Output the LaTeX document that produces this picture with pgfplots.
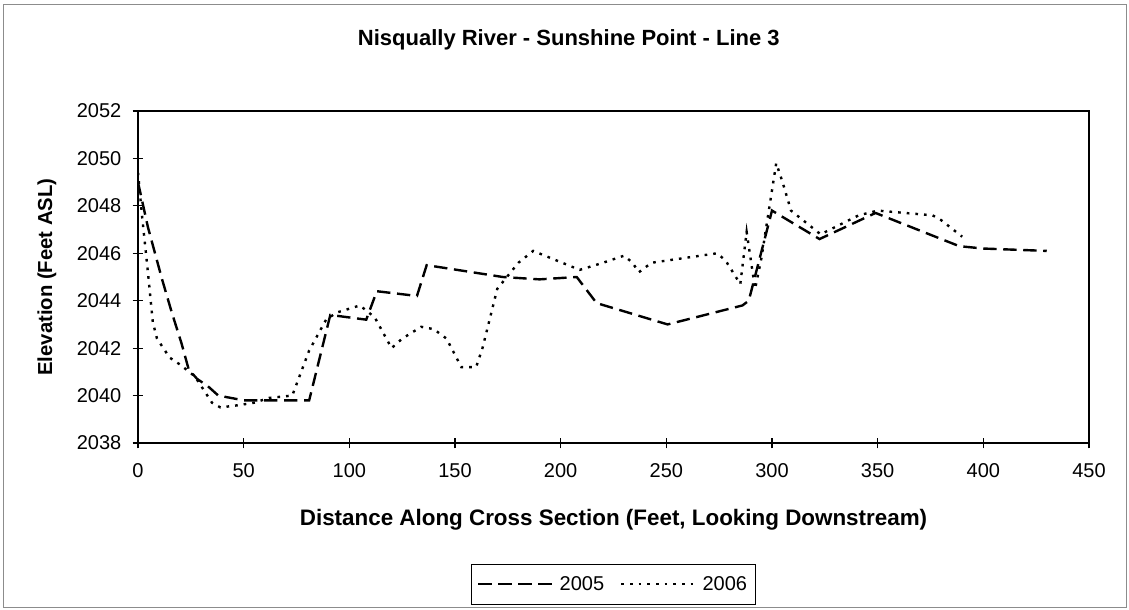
\documentclass[border=0pt]{standalone}
\usepackage{fontspec}
\setmainfont{Liberation Sans}
\usepackage{pgfplots}
\pgfplotsset{compat=1.18}
\pgfplotstableread{
x y
0 2049.0
4.7 2047.1
11.4 2044.9
16 2043.5
20.6 2042.2
24 2041.1
28 2040.7
33 2040.4
38 2040.0
50 2039.8
81 2039.8
91 2043.4
108 2043.2
113 2044.4
132 2044.2
136.6 2045.5
172.6 2045.0
190 2044.9
207.6 2045.0
217 2043.9
250.6 2043.0
286 2043.8
289 2044.0
300 2047.8
322.5 2046.6
349 2047.7
388.6 2046.3
400 2046.2
430 2046.1
}\dataA
\pgfplotstableread{
x y
0 2049.4
2 2047.5
4.7 2045.2
7 2043.1
9 2042.4
15 2041.6
20 2041.3
27 2040.8
35 2039.7
39 2039.5
48 2039.6
55 2039.7
62 2039.9
73 2040.0
81 2041.9
89 2043.2
94 2043.5
105 2043.8
112 2043.3
120 2042.0
125 2042.4
134 2042.9
140 2042.8
146 2042.4
153 2041.2
160 2041.2
163 2042.0
170 2044.5
180 2045.6
187 2046.1
198 2045.7
209 2045.3
220 2045.6
230 2045.9
234 2045.6
237 2045.2
243 2045.6
274 2046.0
278 2045.7
285 2044.7
288 2046.9
292 2044.5
295 2045.8
302 2049.8
305 2049.0
309 2047.8
323 2046.8
341 2047.6
350 2047.8
376 2047.6
380 2047.4
390 2046.7
}\dataB
\begin{document}
\begin{tikzpicture}
\useasboundingbox (0,0) rectangle (846.75pt,457.5pt);
\draw[black!45, line width=0.6pt] (2.5pt,2pt) rectangle (844.5pt,454.5pt);
\begin{axis}[
  at={(103.5pt,125.25pt)}, anchor=south west,
  width=713.25pt, height=249pt, scale only axis,
  xmin=0, xmax=450, ymin=2038, ymax=2052,
  xtick={0,50,...,450}, ytick={2038,2040,...,2052},
  minor y tick num=1,
  xtick pos=left, ytick pos=left,
  tick align=center,
  major tick length=8pt, minor tick length=5pt,
  axis line style={line width=1.4pt},
  every tick/.style={black, line width=0.9pt},
  /pgf/number format/assume math mode=true,
  /pgf/number format/1000 sep={},
  ticklabel style={font=\fontsize{15}{17}\selectfont},
  xticklabel style={yshift=-8pt},
  yticklabel style={xshift=-5pt},
  title={Nisqually River - Sunshine Point - Line 3},
  title style={font=\bfseries\fontsize{16.5}{19}\selectfont, at={(axis description cs:0.453,1.19)}, anchor=center},
  xlabel={Distance Along Cross Section (Feet, Looking Downstream)},
  xlabel style={font=\bfseries\fontsize{16.8}{19}\selectfont, at={(axis description cs:0.5,-0.232)}, anchor=center},
  ylabel={Elevation (Feet ASL)},
  ylabel style={font=\bfseries\fontsize{15.2}{18}\selectfont, at={(axis description cs:-0.0957,0.5)}, anchor=center, rotate=0},
  legend columns=2,
  legend style={at={(axis description cs:0.5,-0.425)}, anchor=center, draw=black, line width=0.7pt,
    font=\fontsize{15}{17}\selectfont, inner xsep=4pt, inner ysep=7pt,
    /tikz/every even column/.append style={column sep=10pt}},
  legend image code/.code={\draw[#1] (0pt,0pt) -- (58pt,0pt);},
]
\addplot[black, line width=1.8pt, dash pattern=on 10pt off 5pt] table[x=x,y=y] {\dataA};
\addlegendentry{2005}
\addplot[black, line width=1.8pt, dash pattern=on 2pt off 4.5pt] table[x=x,y=y] {\dataB};
\addlegendentry{2006}
\end{axis}
\end{tikzpicture}
\end{document}
